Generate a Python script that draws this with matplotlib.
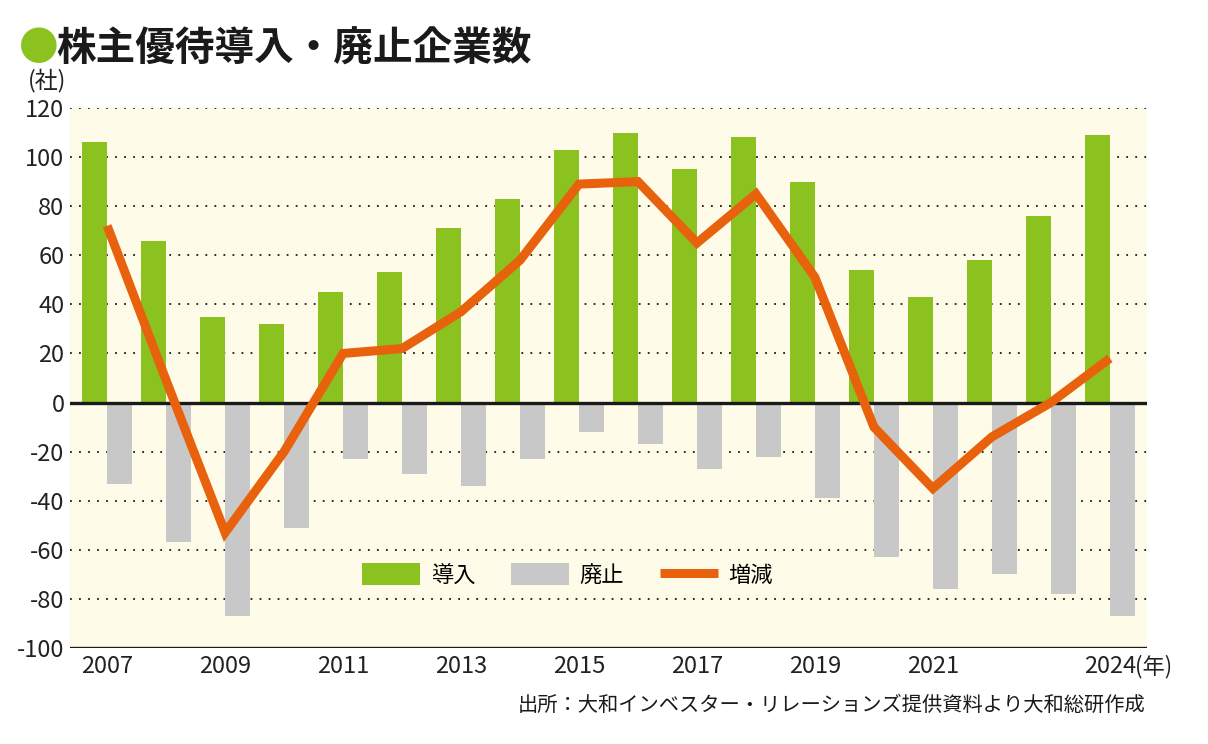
import matplotlib.pyplot as plt
import numpy as np

plt.rcParams['font.family'] = ['Noto Sans CJK JP', 'DejaVu Sans']

# data
years = list(range(2007, 2025))
introduced = [106, 66, 35, 32, 45, 53, 71, 83, 103, 110, 95, 108, 90, 54, 43, 58, 76, 109]
abolished = [-33, -57, -87, -51, -23, -29, -34, -23, -12, -17, -27, -22, -39, -63, -76, -70, -78, -87]
net_change = [72, 9, -53, -20, 20, 22, 37, 58, 89, 90, 65, 85, 51, -10, -35, -14, 0, 18]

x_ticks = [2007, 2009, 2011, 2013, 2015, 2017, 2019, 2021, 2024]
y_ticks = [120, 100, 80, 60, 40, 20, 0, -20, -40, -60, -80, -100]

green = '#8CC21F'
gray = '#C8C8C8'
orange = '#E8610C'
bg = '#FEFCE8'

fig = plt.figure(figsize=(12.08, 7.44), dpi=100)
ax = fig.add_axes([70 / 1208, 96 / 744, 1077 / 1208, 540 / 744])
ax.set_facecolor(bg)

x = np.array(years)
w = 0.43
b1 = ax.bar(x - 0.21, introduced, width=w, color=green, zorder=2, label='導入')
b2 = ax.bar(x + 0.21, abolished, width=w, color=gray, zorder=2, label='廃止')
ln, = ax.plot(x, net_change, color=orange, lw=6.5, zorder=4, label='増減',
              solid_joinstyle='miter', solid_capstyle='butt')

# dotted gridlines, solid at 0 and -100
for v in y_ticks:
    if v in (0, -100):
        ax.axhline(v, color='#1a1a1a', lw=2.4, zorder=3)
    else:
        ax.axhline(v, color='#1a1a1a', lw=1.3, ls=(0, (1, 4)), zorder=1)

ax.set_xlim(2006.37, 2024.63)
ax.set_ylim(-100, 120)
for s in ax.spines.values():
    s.set_visible(False)

ax.set_yticks(y_ticks)
ax.set_yticklabels([str(v) for v in y_ticks])
ax.set_xticks(x_ticks)
ax.set_xticklabels([str(v) for v in x_ticks])
ax.tick_params(axis='both', length=0, labelsize=17, colors='#222222')
ax.tick_params(axis='y', pad=4)
ax.tick_params(axis='x', pad=5)

ax.annotate('(年)', xy=(2024, 0), xycoords=('data', 'axes fraction'),
            xytext=(18, -5), textcoords='offset points', ha='left', va='top',
            fontsize=16, color='#222222')

ax.legend(handles=[b1, b2, ln], ncol=3, frameon=False, fontsize=16,
          loc='center', bbox_to_anchor=(0.462, 0.135),
          handlelength=2.6, handleheight=1.1, handletextpad=0.5,
          columnspacing=1.6)

fig.text(19 / 1208, 1 - 49 / 744, '●', color=green, fontsize=28.5,
         va='center', ha='left')
fig.text(56 / 1208, 1 - 49 / 744, '株主優待導入・廃止企業数', color='#1a1a1a',
         fontsize=28.5, fontweight='bold', va='center', ha='left')
fig.text(28 / 1208, 1 - 80 / 744, '(社)', fontsize=16.5, va='center', ha='left',
         color='#222222')
fig.text(1145 / 1208, 1 - 705 / 744,
         '出所：大和インベスター・リレーションズ提供資料より大和総研作成',
         fontsize=14.6, va='center', ha='right', color='#1a1a1a')

fig.savefig('out.png', dpi=100)
